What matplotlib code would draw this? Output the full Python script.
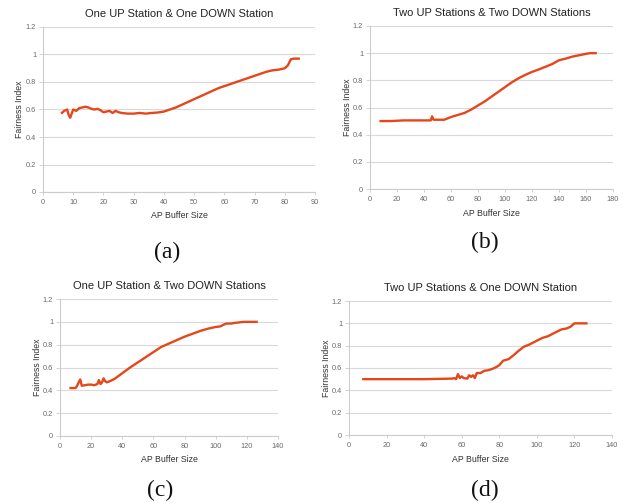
import matplotlib.pyplot as plt

plt.rcParams["font.family"] = ["Liberation Sans", "DejaVu Sans"]

# (a) One UP & One DOWN
a_x = [6, 7, 8, 8.5, 9, 10, 11, 12, 13, 14, 15, 16, 17, 18, 19, 20, 21, 22, 23, 24, 25, 26,
       28, 30, 32, 34, 36, 38, 40, 42, 44, 46, 48, 50, 52, 54, 56, 58, 60, 62, 64, 66, 68,
       70, 72, 74, 76, 78, 80, 81, 82, 83, 85]
a_y = [0.57, 0.59, 0.60, 0.56, 0.54, 0.60, 0.59, 0.61, 0.615, 0.62, 0.615, 0.605, 0.60, 0.605,
       0.595, 0.58, 0.585, 0.59, 0.575, 0.59, 0.58, 0.575, 0.57, 0.57, 0.575, 0.57, 0.575,
       0.578, 0.585, 0.60, 0.615, 0.635, 0.655, 0.675, 0.695, 0.715, 0.735, 0.755, 0.77,
       0.785, 0.80, 0.815, 0.83, 0.845, 0.86, 0.875, 0.885, 0.89, 0.90, 0.92, 0.965, 0.97, 0.97]

# (b) Two UP & Two DOWN
b_x = [7, 15, 25, 35, 45, 46, 47, 55, 60, 65, 70, 75, 80, 85, 90, 95, 100, 105, 110, 115,
       120, 125, 130, 135, 140, 145, 150, 155, 160, 163, 168]
b_y = [0.50, 0.50, 0.505, 0.505, 0.505, 0.535, 0.51, 0.51, 0.53, 0.545, 0.56, 0.585, 0.615,
       0.645, 0.68, 0.715, 0.75, 0.785, 0.815, 0.84, 0.862, 0.88, 0.90, 0.92, 0.948, 0.96,
       0.975, 0.985, 0.995, 1.0, 1.0]

# (c) One UP & Two DOWN
c_x = [6, 8, 10, 11, 12, 13, 14, 16, 18, 20, 22, 24, 25, 26, 27, 28, 29, 30, 32, 35, 38, 40,
       45, 50, 55, 60, 65, 70, 75, 80, 85, 90, 95, 100, 103, 105, 107, 110, 112, 115, 118, 127]
c_y = [0.42, 0.42, 0.42, 0.44, 0.47, 0.495, 0.44, 0.445, 0.45, 0.45, 0.445, 0.455, 0.49, 0.455,
       0.47, 0.505, 0.48, 0.47, 0.48, 0.50, 0.53, 0.55, 0.60, 0.645, 0.69, 0.735, 0.78, 0.81,
       0.84, 0.87, 0.895, 0.92, 0.94, 0.955, 0.96, 0.975, 0.985, 0.985, 0.99, 0.995, 1.0, 1.0]

# (d) Two UP & One DOWN
d_x = [7, 20, 40, 55, 56, 57, 58, 59, 60, 61, 63, 64, 65, 66, 67, 68, 70, 72, 74, 76, 78,
       80, 82, 85, 88, 90, 93, 96, 100, 103, 106, 110, 113, 116, 118, 120, 127]
d_y = [0.50, 0.50, 0.50, 0.505, 0.51, 0.50, 0.545, 0.51, 0.525, 0.51, 0.505, 0.535, 0.52,
       0.535, 0.51, 0.555, 0.555, 0.575, 0.58, 0.59, 0.605, 0.625, 0.665, 0.68, 0.72, 0.75,
       0.79, 0.81, 0.845, 0.87, 0.885, 0.92, 0.945, 0.955, 0.97, 1.0, 1.0]

titles = ["One UP Station & One DOWN Station", "Two UP Stations & Two DOWN Stations",
          "One UP Station & Two DOWN Stations", "Two UP Stations & One DOWN Station"]
tags = ["(a)", "(b)", "(c)", "(d)"]
xmax = [90, 180, 140, 140]
xstep = [10, 20, 20, 20]

W, H = 623, 503
# axes boxes in pixels: left, top, right, bottom
boxes = [(43, 27, 315, 192), (370, 26, 613, 189), (60, 299, 278, 436), (349, 301, 612, 435)]
tag_pos = [(167, 252), (485, 242), (160, 490), (485, 490)]
series = [(a_x, a_y), (b_x, b_y), (c_x, c_y), (d_x, d_y)]

line_color = "#e5461a"
grid_color = "#d9d9d9"
text_color = "#6a6a6a"

fig = plt.figure(figsize=(W / 100, H / 100), dpi=100)
fig.patch.set_facecolor("white")

for i, (l, t, r, b) in enumerate(boxes):
    ax = fig.add_axes([l / W, 1 - b / H, (r - l) / W, (b - t) / H])
    x, y = series[i]
    ax.plot(x, y, color=line_color, lw=1.7, solid_capstyle="butt", zorder=3)
    ax.set_xlim(0, xmax[i])
    ax.set_ylim(0, 1.2)
    ax.set_xticks(range(0, xmax[i] + 1, xstep[i]))
    ax.set_yticks([0, 0.2, 0.4, 0.6, 0.8, 1, 1.2])
    ax.set_yticklabels(["0", "0.2", "0.4", "0.6", "0.8", "1", "1.2"])
    ax.grid(axis="y", color=grid_color, lw=0.8)
    ax.set_axisbelow(True)
    for s in ["top", "right"]:
        ax.spines[s].set_visible(False)
    for s in ["left", "bottom"]:
        ax.spines[s].set_color("#cccccc")
        ax.spines[s].set_linewidth(0.8)
    ax.tick_params(labelsize=5.3, colors=text_color, length=3, width=0.6, color="#cccccc", pad=2)
    ax.tick_params(axis="x", length=2, pad=3)
    ax.set_xlabel("AP Buffer Size", fontsize=6.3, color="#333333", labelpad=4)
    ax.set_ylabel("Fairness Index", fontsize=6.3, color="#333333", va="center")
    ax.yaxis.set_label_coords(-23 / (r - l), 0.5)
    ax.set_title(titles[i], fontsize=8, color="#222222", pad=7)
    fig.text(tag_pos[i][0] / W, 1 - tag_pos[i][1] / H, tags[i], ha="center", va="center",
             fontsize=17, family="Liberation Serif", color="#111111")

fig.savefig("out.png", dpi=100)
